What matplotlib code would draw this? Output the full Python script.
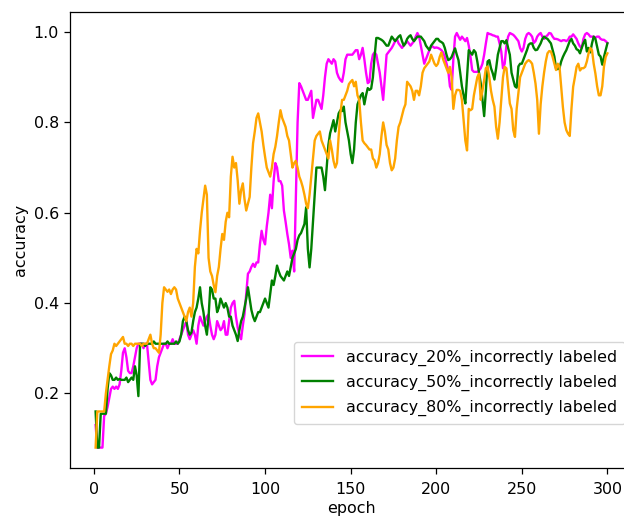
import matplotlib
matplotlib.use("Agg")
import matplotlib.pyplot as plt
import numpy as np

epochs = list(range(1, 301))

acc_20 = [
    0.13, 0.08, 0.08, 0.08, 0.08, 0.15, 0.155, 0.17, 0.19, 0.21,
    0.215, 0.21, 0.215, 0.21, 0.22, 0.25, 0.29, 0.30, 0.28, 0.25,
    0.245, 0.245, 0.26, 0.28, 0.30, 0.31, 0.31, 0.31, 0.30, 0.31,
    0.31, 0.27, 0.23, 0.22, 0.225, 0.23, 0.26, 0.28, 0.29, 0.30,
    0.31, 0.31, 0.30, 0.31, 0.31, 0.32, 0.31, 0.31, 0.31, 0.32,
    0.33, 0.34, 0.35, 0.36, 0.33, 0.32, 0.33, 0.34, 0.33, 0.31,
    0.35, 0.37, 0.36, 0.35, 0.36, 0.37, 0.375, 0.35, 0.33, 0.32,
    0.33, 0.36, 0.35, 0.34, 0.345, 0.36, 0.33, 0.33, 0.36, 0.39,
    0.40, 0.405, 0.37, 0.346, 0.33, 0.32, 0.35, 0.376, 0.42, 0.465,
    0.47, 0.48, 0.487, 0.48, 0.49, 0.49, 0.53, 0.56, 0.54, 0.53,
    0.57, 0.60, 0.64, 0.61, 0.67, 0.71, 0.70, 0.67, 0.67, 0.66,
    0.605, 0.58, 0.553, 0.53, 0.50, 0.516, 0.47, 0.63, 0.80, 0.887,
    0.88, 0.87, 0.86, 0.85, 0.85, 0.86, 0.87, 0.81, 0.83, 0.85,
    0.85, 0.84, 0.83, 0.86, 0.90, 0.93, 0.94, 0.935, 0.93, 0.94,
    0.935, 0.91, 0.90, 0.894, 0.89, 0.91, 0.94, 0.95, 0.95, 0.95,
    0.95, 0.955, 0.96, 0.96, 0.94, 0.95, 0.965, 0.94, 0.91, 0.887,
    0.89, 0.93, 0.95, 0.955, 0.95, 0.93, 0.91, 0.88, 0.85, 0.90,
    0.95, 0.955, 0.96, 0.965, 0.972, 0.98, 0.985, 0.975, 0.97, 0.965,
    0.97, 0.975, 0.98, 0.975, 0.97, 0.975, 0.98, 0.99, 0.998, 0.99,
    0.97, 0.95, 0.93, 0.94, 0.95, 0.96, 0.968, 0.968, 0.965, 0.966,
    0.965, 0.963, 0.96, 0.955, 0.945, 0.93, 0.916, 0.88, 0.872, 0.94,
    0.99, 0.998, 0.99, 0.983, 0.99, 0.985, 0.98, 0.987, 0.97, 0.946,
    0.916, 0.912, 0.912, 0.912, 0.915, 0.92, 0.93, 0.95, 0.975, 0.998,
    0.996, 0.995, 0.993, 0.992, 0.99, 0.99, 0.975, 0.957, 0.92, 0.93,
    0.97, 0.99, 0.998, 0.996, 0.994, 0.99, 0.985, 0.98, 0.965, 0.957,
    0.965, 0.985, 0.995, 0.998, 0.995, 0.99, 0.976, 0.98, 0.99, 0.995,
    0.998, 0.99, 0.985, 0.99, 0.993, 0.998, 0.997, 0.99, 0.985, 0.985,
    0.984, 0.982, 0.98, 0.982, 0.982, 0.98, 0.983, 0.99, 0.99, 0.995,
    0.99, 0.985, 0.975, 0.968, 0.965, 0.985, 0.995, 0.998, 0.995, 0.99,
    0.99, 0.99, 0.988, 0.99, 0.99, 0.985, 0.983, 0.983, 0.98, 0.976,
]

acc_50 = [
    0.16, 0.08, 0.08, 0.155, 0.155, 0.155, 0.155, 0.21, 0.245, 0.24,
    0.23, 0.23, 0.235, 0.23, 0.232, 0.23, 0.23, 0.23, 0.235, 0.225,
    0.23, 0.235, 0.23, 0.26, 0.24, 0.194, 0.31, 0.31, 0.31, 0.305,
    0.31, 0.31, 0.31, 0.31, 0.315, 0.31, 0.31, 0.31, 0.31, 0.31,
    0.31, 0.31, 0.315, 0.31, 0.31, 0.31, 0.31, 0.315, 0.31, 0.315,
    0.33, 0.36, 0.37, 0.36, 0.34, 0.33, 0.335, 0.36, 0.38, 0.39,
    0.41, 0.435, 0.40, 0.38, 0.35, 0.33, 0.37, 0.435, 0.43, 0.41,
    0.41, 0.38, 0.39, 0.41, 0.40, 0.39, 0.40, 0.39, 0.37, 0.37,
    0.35, 0.34, 0.33, 0.316, 0.34, 0.36, 0.37, 0.39, 0.41, 0.435,
    0.41, 0.385, 0.37, 0.36, 0.37, 0.38, 0.38, 0.39, 0.40, 0.41,
    0.40, 0.39, 0.42, 0.45, 0.44, 0.46, 0.483, 0.47, 0.46, 0.455,
    0.45, 0.46, 0.47, 0.46, 0.48, 0.50, 0.51, 0.52, 0.54, 0.55,
    0.555, 0.565, 0.575, 0.612, 0.52, 0.479, 0.52, 0.58, 0.64, 0.70,
    0.70, 0.70, 0.70, 0.68, 0.65, 0.70, 0.75, 0.776, 0.79, 0.805,
    0.78, 0.80, 0.82, 0.827, 0.825, 0.835, 0.80, 0.78, 0.76, 0.73,
    0.71, 0.74, 0.80, 0.84, 0.85, 0.86, 0.865, 0.84, 0.86, 0.876,
    0.872, 0.875, 0.90, 0.946, 0.987, 0.987, 0.985, 0.983, 0.98, 0.975,
    0.97, 0.97, 0.98, 0.99, 0.985, 0.98, 0.985, 0.99, 0.993, 0.98,
    0.97, 0.975, 0.985, 0.99, 0.993, 0.985, 0.98, 0.985, 0.99, 0.99,
    0.99, 0.985, 0.98, 0.97, 0.965, 0.96, 0.97, 0.975, 0.98, 0.985,
    0.985, 0.98, 0.978, 0.975, 0.965, 0.95, 0.938, 0.94, 0.945, 0.955,
    0.964, 0.95, 0.938, 0.91, 0.88, 0.86, 0.842, 0.90, 0.96, 0.955,
    0.95, 0.96, 0.955, 0.935, 0.91, 0.887, 0.85, 0.814, 0.87, 0.935,
    0.938, 0.92, 0.909, 0.895, 0.92, 0.95, 0.965, 0.98, 0.98, 0.975,
    0.982, 0.965, 0.95, 0.91, 0.895, 0.88, 0.877, 0.924, 0.93, 0.93,
    0.94, 0.95, 0.96, 0.972, 0.975, 0.975, 0.965, 0.96, 0.961, 0.968,
    0.975, 0.985, 0.99, 0.987, 0.985, 0.98, 0.975, 0.96, 0.946, 0.92,
    0.918, 0.92, 0.935, 0.945, 0.953, 0.96, 0.97, 0.98, 0.985, 0.975,
    0.97, 0.962, 0.96, 0.953, 0.965, 0.976, 0.983, 0.957, 0.965, 0.955,
    0.975, 0.99, 0.985, 0.968, 0.95, 0.946, 0.928, 0.945, 0.96, 0.975,
]

acc_80 = [
    0.08, 0.16, 0.16, 0.16, 0.16, 0.16, 0.20, 0.23, 0.26, 0.287,
    0.295, 0.31, 0.305, 0.31, 0.315, 0.32, 0.325, 0.31, 0.31, 0.305,
    0.31, 0.31, 0.305, 0.31, 0.31, 0.31, 0.31, 0.305, 0.31, 0.31,
    0.31, 0.32, 0.33, 0.31, 0.30, 0.30, 0.295, 0.29, 0.33, 0.40,
    0.435, 0.43, 0.425, 0.43, 0.42, 0.43, 0.435, 0.43, 0.41, 0.40,
    0.39, 0.38, 0.37, 0.36, 0.38, 0.39, 0.37, 0.40, 0.48, 0.52,
    0.51, 0.56, 0.60, 0.63, 0.66, 0.64, 0.50, 0.47, 0.46, 0.44,
    0.424, 0.46, 0.48, 0.52, 0.553, 0.54, 0.58, 0.60, 0.59, 0.68,
    0.724, 0.70, 0.71, 0.672, 0.62, 0.65, 0.665, 0.63, 0.605, 0.62,
    0.635, 0.70, 0.754, 0.78, 0.81, 0.82, 0.80, 0.78, 0.75, 0.724,
    0.70, 0.69, 0.68, 0.70, 0.73, 0.746, 0.77, 0.80, 0.827, 0.81,
    0.80, 0.79, 0.77, 0.76, 0.73, 0.70, 0.71, 0.715, 0.70, 0.68,
    0.67, 0.657, 0.64, 0.62, 0.61, 0.64, 0.68, 0.72, 0.76, 0.77,
    0.775, 0.78, 0.76, 0.75, 0.74, 0.73, 0.72, 0.76, 0.74, 0.715,
    0.70, 0.71, 0.77, 0.82, 0.85, 0.85, 0.86, 0.87, 0.885, 0.89,
    0.894, 0.88, 0.89, 0.86, 0.85, 0.80, 0.76, 0.754, 0.75, 0.745,
    0.74, 0.74, 0.72, 0.716, 0.70, 0.71, 0.73, 0.77, 0.80, 0.78,
    0.75, 0.74, 0.71, 0.694, 0.70, 0.72, 0.76, 0.79, 0.80, 0.815,
    0.83, 0.84, 0.89, 0.885, 0.88, 0.87, 0.85, 0.87, 0.87, 0.86,
    0.88, 0.91, 0.92, 0.925, 0.93, 0.935, 0.95, 0.94, 0.93, 0.925,
    0.93, 0.945, 0.955, 0.94, 0.93, 0.92, 0.91, 0.923, 0.90, 0.83,
    0.86, 0.872, 0.872, 0.87, 0.85, 0.805, 0.76, 0.738, 0.83, 0.827,
    0.83, 0.86, 0.88, 0.90, 0.908, 0.85, 0.87, 0.894, 0.92, 0.924,
    0.90, 0.87, 0.85, 0.835, 0.79, 0.764, 0.80, 0.85, 0.90, 0.923,
    0.92, 0.88, 0.842, 0.83, 0.783, 0.768, 0.83, 0.864, 0.90, 0.91,
    0.92, 0.93, 0.935, 0.938, 0.935, 0.93, 0.91, 0.886, 0.85, 0.775,
    0.84, 0.88, 0.91, 0.935, 0.953, 0.958, 0.957, 0.945, 0.93, 0.916,
    0.93, 0.924, 0.88, 0.834, 0.80, 0.783, 0.775, 0.77, 0.83, 0.879,
    0.90, 0.923, 0.93, 0.915, 0.92, 0.92, 0.923, 0.935, 0.953, 0.965,
    0.96, 0.93, 0.908, 0.88, 0.86, 0.86, 0.88, 0.924, 0.945, 0.953,
]

labels = [
    "accuracy_20%_incorrectly labeled",
    "accuracy_50%_incorrectly labeled",
    "accuracy_80%_incorrectly labeled",
]
colors = ["magenta", "green", "orange"]

plt.rcParams.update({
    "font.size": 11.4,
    "lines.linewidth": 1.7,
    "axes.linewidth": 0.9,
    "xtick.major.size": 4.0,
    "ytick.major.size": 4.0,
    "xtick.major.width": 0.9,
    "ytick.major.width": 0.9,
    "xtick.major.pad": 5.5,
    "ytick.major.pad": 4.0,
})

fig = plt.figure(figsize=(6.24, 5.18), dpi=100)
ax = fig.add_axes([0.1122, 0.0959, 0.9022, 0.8804])

for series, lab, col in zip([acc_20, acc_50, acc_80], labels, colors):
    ax.plot(epochs, series, color=col, label=lab)

ax.set_xlabel("epoch", labelpad=3.0)
ax.set_ylabel("accuracy")
ax.legend(loc="lower right", bbox_to_anchor=(1.0, 0.079),
          labelspacing=0.58, borderpad=0.5)

fig.savefig("out.png", dpi=100)
